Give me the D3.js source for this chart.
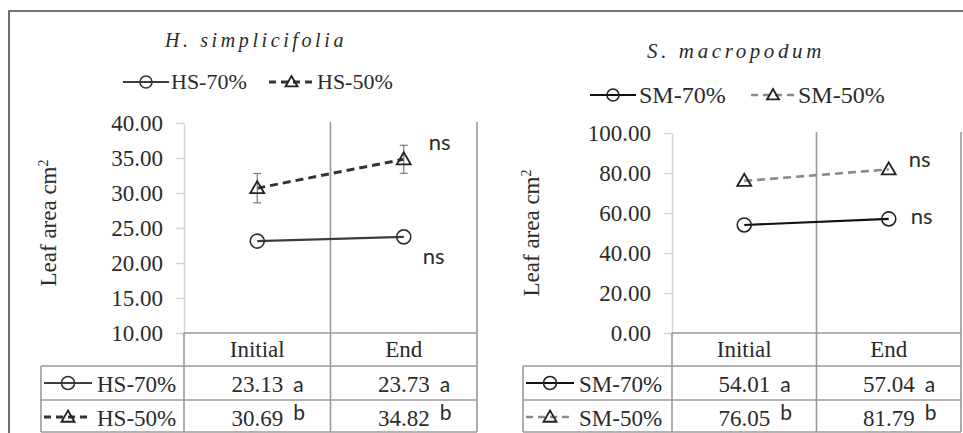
<!DOCTYPE html>
<html>
<head>
<meta charset="utf-8">
<script src="https://cdn.jsdelivr.net/npm/d3@7"></script>
<style>
  body { margin: 0; background: #fff; }
  svg { display: block; }
  svg text { font-family: "Liberation Serif", serif; fill: #2b2b2b; }
  svg text.sans { font-family: Lato, sans-serif; }
  svg text.title { font-style: italic; letter-spacing: 3.6px; }
</style>
</head>
<body>
<svg id="chart" width="963" height="433"></svg>
<script>
// ---- data ----
const categories = ["Initial", "End"];

const hsNames = ["HS-70%", "HS-50%"];
const hs70 = [23.13, 23.73];
const hs50 = [30.69, 34.82];
const hs50Err = [2.1, 2.0];
const hs70Letters = ["a", "a"];
const hs50Letters = ["b", "b"];
const hsTicks = [10, 15, 20, 25, 30, 35, 40];

const smNames = ["SM-70%", "SM-50%"];
const sm70 = [54.01, 57.04];
const sm50 = [76.05, 81.79];
const sm70Letters = ["a", "a"];
const sm50Letters = ["b", "b"];
const smTicks = [0, 20, 40, 60, 80, 100];

const sigLabel = "ns";

// ---- drawing ----
const svg = d3.select("#chart");

// outer frame (top and left edges)
svg.append("path")
  .attr("d", "M9,433 L9,11 L963,11")
  .attr("fill", "none").attr("stroke", "#4a4a4a").attr("stroke-width", 1.6);

function marker(g, kind, cx, cy, size, color) {
  if (kind === "circle") {
    g.append("circle").attr("cx", cx).attr("cy", cy).attr("r", size)
      .attr("fill", "none").attr("stroke", color).attr("stroke-width", 1.6);
  } else {
    const side = size * 2;
    const area = side * side * Math.sqrt(3) / 4;
    g.append("path")
      .attr("d", d3.symbol(d3.symbolTriangle, area)())
      .attr("transform", `translate(${cx},${cy + 1})`)
      .attr("fill", "none").attr("stroke", color).attr("stroke-width", 1.8);
  }
}

function legendGlyph(g, s, x0, x1, cy, r) {
  g.append("line").attr("x1", x0).attr("x2", x1).attr("y1", cy).attr("y2", cy)
    .attr("stroke", s.color).attr("stroke-width", s.width)
    .attr("stroke-dasharray", s.dash ? "7,5" : null);
  marker(g, s.marker, (x0 + x1) / 2, cy, r, s.markerColor);
}

function label(g, x, y, size, str, cls) {
  return g.append("text").attr("class", cls || null)
    .attr("x", x).attr("y", y).style("font-size", size + "px").text(str);
}

function drawPanel(cfg) {
  const g = svg.append("g");
  const bottom = 333;
  const rowTop = [366, 400];
  const tableBottom = 432;

  const y = d3.scaleLinear().domain(cfg.domain).range([bottom, cfg.top]);
  const x = d3.scaleBand().domain(categories).range([cfg.axisX, cfg.rightX]);
  const cx = c => x(c) + x.bandwidth() / 2;

  // title
  label(g, cfg.titleX, cfg.titleY, cfg.titleSize, cfg.title, "title")
    .attr("text-anchor", "middle");

  // legend above plot
  cfg.series.forEach((s, i) => {
    const L = cfg.legend[i];
    legendGlyph(g, s, L.x0, L.x1, L.cy, 6);
    label(g, L.tx, L.cy + cfg.legendSize * 0.33, cfg.legendSize, s.name);
  });

  // y axis
  const axis = g.append("g")
    .attr("transform", `translate(${cfg.axisX},0)`)
    .call(d3.axisLeft(y).tickValues(cfg.ticks).tickFormat(d3.format(".2f"))
      .tickSize(8).tickSizeOuter(0).tickPadding(13));
  axis.select(".domain").attr("stroke", "#d4d4d4").attr("stroke-width", 1.5);
  axis.selectAll(".tick line").attr("stroke", "#d4d4d4").attr("stroke-width", 1.5);
  axis.selectAll(".tick text").style("font-size", "23px");

  // y axis title
  const yt = g.append("text")
    .attr("transform", `translate(${cfg.yTitleX},${cfg.yTitleY}) rotate(-90)`)
    .attr("text-anchor", "middle").attr("dy", "0.35em")
    .style("font-size", "23px");
  yt.append("tspan").text("Leaf area cm");
  yt.append("tspan").attr("dy", -8).style("font-size", "14px").text("2");

  // category dividers through plot and table
  const grid = "#9a9a9a";
  categories.forEach(c => {
    const xr = x(c) + x.bandwidth();
    g.append("line").attr("x1", xr).attr("x2", xr)
      .attr("y1", cfg.top - 1).attr("y2", tableBottom)
      .attr("stroke", grid).attr("stroke-width", 1.6);
  });

  // data table grid
  g.append("line").attr("x1", cfg.axisX).attr("x2", cfg.axisX)
    .attr("y1", bottom).attr("y2", tableBottom).attr("stroke", grid).attr("stroke-width", 1.6);
  g.append("line").attr("x1", cfg.axisX).attr("x2", cfg.rightX)
    .attr("y1", bottom).attr("y2", bottom).attr("stroke", grid).attr("stroke-width", 1.6);
  [rowTop[0], rowTop[1], tableBottom].forEach(yy => {
    g.append("line").attr("x1", cfg.tableLeft).attr("x2", cfg.rightX)
      .attr("y1", yy).attr("y2", yy).attr("stroke", grid).attr("stroke-width", 1.6);
  });
  g.append("line").attr("x1", cfg.tableLeft).attr("x2", cfg.tableLeft)
    .attr("y1", rowTop[0]).attr("y2", tableBottom).attr("stroke", grid).attr("stroke-width", 1.6);

  // table header
  categories.forEach(c => {
    label(g, cx(c), 357, 23, c).attr("text-anchor", "middle");
  });

  // table rows
  cfg.series.forEach((s, i) => {
    const base = rowTop[i] + 26;
    const mid = rowTop[i] + 17;
    legendGlyph(g, s, cfg.tableLeft + 3, cfg.tableLeft + 51, mid, 6.5);
    label(g, cfg.tableLeft + 56, base, 23, s.name);
    categories.forEach((c, j) => {
      const t = label(g, cx(c), base, 23, s.values[j].toFixed(2)).attr("text-anchor", "middle");
      const w = t.node().getComputedTextLength();
      label(g, cx(c) + w / 2 + 10, base - (s.raise || 0), 21, s.letters[j], "sans");
    });
  });

  // series lines, error bars and markers (drawn back to front)
  const line = d3.line().x((d, j) => cx(categories[j])).y(d => y(d));
  cfg.series.slice().reverse().forEach(s => {
    g.append("path").datum(s.values).attr("d", line)
      .attr("fill", "none").attr("stroke", s.color).attr("stroke-width", s.width)
      .attr("stroke-dasharray", s.dash ? "8,5" : null);
    if (s.err) {
      s.values.forEach((v, j) => {
        const xx = cx(categories[j]);
        const e = g.append("g").attr("stroke", "#7a7a7a").attr("stroke-width", 1.2);
        e.append("line").attr("x1", xx).attr("x2", xx).attr("y1", y(v + s.err[j])).attr("y2", y(v - s.err[j]));
        [v + s.err[j], v - s.err[j]].forEach(ev => {
          e.append("line").attr("x1", xx - 4).attr("x2", xx + 4).attr("y1", y(ev)).attr("y2", y(ev));
        });
      });
    }
    s.values.forEach((v, j) => marker(g, s.marker, cx(categories[j]), y(v), 7, s.markerColor));
    // significance label next to the End point
    const last = s.values.length - 1;
    label(g, cx(categories[last]) + s.nsDx, y(s.values[last]) + s.nsDy, 22, sigLabel, "sans");
  });
}

drawPanel({
  title: "H. simplicifolia", titleX: 256, titleY: 47, titleSize: 20,
  legendSize: 22,
  legend: [
    { x0: 123, x1: 169, cy: 82, tx: 171 },
    { x0: 269, x1: 314, cy: 82, tx: 317 }
  ],
  domain: [10, 40], ticks: hsTicks, top: 123,
  axisX: 184, rightX: 477, tableLeft: 41,
  yTitleX: 48, yTitleY: 223,
  series: [
    { name: hsNames[0], values: hs70, letters: hs70Letters, marker: "circle",
      color: "#3c3c3c", markerColor: "#333", width: 2.2, dash: false, nsDx: 19, nsDy: 27 },
    { name: hsNames[1], values: hs50, letters: hs50Letters, err: hs50Err, marker: "triangle",
      color: "#333", markerColor: "#222", width: 3, dash: true, raise: 6, nsDx: 25, nsDy: -9 }
  ]
});

drawPanel({
  title: "S. macropodum", titleX: 736, titleY: 58, titleSize: 21,
  legendSize: 24,
  legend: [
    { x0: 590, x1: 636, cy: 95, tx: 639 },
    { x0: 751, x1: 795, cy: 95, tx: 798 }
  ],
  domain: [0, 100], ticks: smTicks, top: 133,
  axisX: 672, rightX: 961, tableLeft: 523,
  yTitleX: 531, yTitleY: 233,
  series: [
    { name: smNames[0], values: sm70, letters: sm70Letters, marker: "circle",
      color: "#111", markerColor: "#222", width: 2.2, dash: false, nsDx: 22, nsDy: 5 },
    { name: smNames[1], values: sm50, letters: sm50Letters, marker: "triangle",
      color: "#8a8a8a", markerColor: "#222", width: 2.6, dash: true, raise: 6, nsDx: 20, nsDy: -2 }
  ]
});
</script>
</body>
</html>
